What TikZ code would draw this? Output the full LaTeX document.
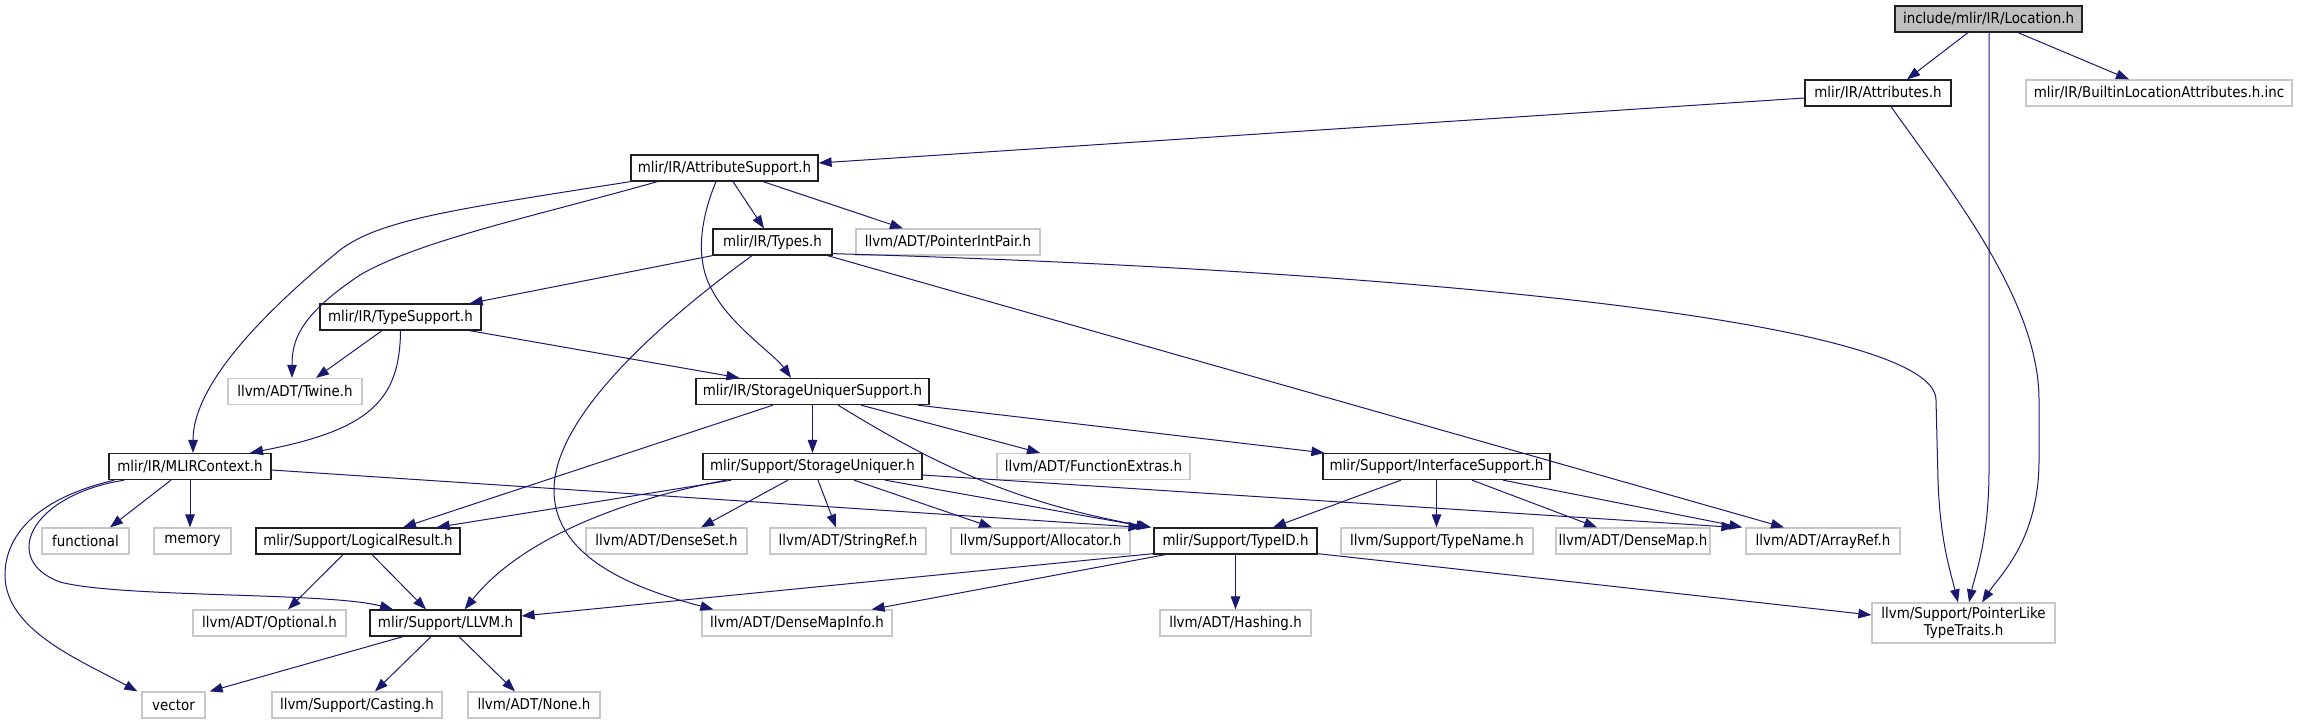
\documentclass[tikz,border=0pt]{standalone}
\usepackage{fontspec}
\setmainfont{DejaVu Sans}[FakeStretch=0.9]
\usetikzlibrary{arrows.meta}
\definecolor{edgeblue}{HTML}{191970}
\definecolor{lgray}{HTML}{C8C8C8}
\definecolor{rootgray}{HTML}{BFBFBF}
\definecolor{docborder}{HTML}{202020}
\newcommand{\nodefont}{\fontsize{14.9}{17.5}\selectfont}
\tikzset{
  doc/.style={draw=docborder, fill=white, line width=1.25pt, minimum height=26pt, inner sep=0pt, font=\nodefont, align=center},
  undoc/.style={doc, draw=lgray},
  rootnode/.style={doc, fill=rootgray},
  edge/.style={draw=edgeblue, line width=1pt, -{Triangle[length=13pt,width=9.5pt]}}
}
\begin{document}
\begin{tikzpicture}[x=1pt,y=-1pt]
\useasboundingbox (0,0) rectangle (2297,724);
% nodes
\node[rootnode, minimum width=187pt] (loc) at (1988.5,19) {include/mlir/IR/Location.h};
\node[doc, minimum width=146pt] (attr) at (1878,93) {mlir/IR/Attributes.h};
\node[undoc, minimum width=266pt] (builtin) at (2159,93) {mlir/IR/BuiltinLocationAttributes.h.inc};
\node[doc, minimum width=187pt] (attrsup) at (724.5,168) {mlir/IR/AttributeSupport.h};
\node[doc, minimum width=119pt] (types) at (772.5,242) {mlir/IR/Types.h};
\node[undoc, minimum width=184pt] (pip) at (948,242) {llvm/ADT/PointerIntPair.h};
\node[doc, minimum width=161pt] (typesup) at (400.5,317) {mlir/IR/TypeSupport.h};
\node[undoc, minimum width=134pt] (twine) at (295,391.5) {llvm/ADT/Twine.h};
\node[doc, minimum width=233pt] (sus) at (812.5,391.5) {mlir/IR/StorageUniquerSupport.h};
\node[doc, minimum width=162pt] (mlirctx) at (190,466.5) {mlir/IR/MLIRContext.h};
\node[doc, minimum width=219pt] (su) at (812.5,466.5) {mlir/Support/StorageUniquer.h};
\node[undoc, minimum width=193pt] (funcext) at (1093.5,466.5) {llvm/ADT/FunctionExtras.h};
\node[doc, minimum width=227pt] (ifsup) at (1436.5,466.5) {mlir/Support/InterfaceSupport.h};
\node[undoc, minimum width=87pt] (functional) at (85.5,541) {functional};
\node[undoc, minimum width=77pt] (memory) at (192.5,541) {memory};
\node[doc, minimum width=204pt] (logres) at (358,541) {mlir/Support/LogicalResult.h};
\node[undoc, minimum width=161pt] (denseset) at (666.5,541) {llvm/ADT/DenseSet.h};
\node[undoc, minimum width=156pt] (stringref) at (848,541) {llvm/ADT/StringRef.h};
\node[undoc, minimum width=179pt] (allocator) at (1040.5,541) {llvm/Support/Allocator.h};
\node[doc, minimum width=163pt] (typeid) at (1235.5,541) {mlir/Support/TypeID.h};
\node[undoc, minimum width=192pt] (typename) at (1437,541) {llvm/Support/TypeName.h};
\node[undoc, minimum width=154pt] (densemap) at (1633,541) {llvm/ADT/DenseMap.h};
\node[undoc, minimum width=154pt] (arrayref) at (1823,541) {llvm/ADT/ArrayRef.h};
\node[undoc, minimum width=153pt] (optional) at (269.5,623) {llvm/ADT/Optional.h};
\node[doc, minimum width=151pt] (llvm) at (445.5,623) {mlir/Support/LLVM.h};
\node[undoc, minimum width=190pt] (dmi) at (797,623) {llvm/ADT/DenseMapInfo.h};
\node[undoc, minimum width=151pt] (hashing) at (1235.5,623) {llvm/ADT/Hashing.h};
\node[undoc, minimum width=183pt, minimum height=40pt] (plt) at (1963.5,623) {llvm/Support/PointerLike\\TypeTraits.h};
\node[undoc, minimum width=63pt] (vector) at (173.5,705) {vector};
\node[undoc, minimum width=170pt] (casting) at (357,705) {llvm/Support/Casting.h};
\node[undoc, minimum width=132pt] (none) at (534,705) {llvm/ADT/None.h};
% edges
\draw[edge] ([xshift=-20.5]loc.south) -- ([xshift=29]attr.north);
\draw[edge] ([xshift=0.5]loc.south) -- (1989,470) .. controls (1989,540) and (1975,575) .. ([xshift=5.5]plt.north);
\draw[edge] ([xshift=29.5]loc.south) -- ([xshift=-30]builtin.north);
\draw[edge] ([yshift=-5]attr.west) -- ([yshift=5]attrsup.east);
\draw[edge] ([xshift=13]attr.south) .. controls (1950,190) and (2039,300) .. (2039,400) -- (2039,460) .. controls (2039,540) and (2000,575) .. ([xshift=18.5]plt.north);
\draw[edge] (attrsup.south west) .. controls (450,210) and (380,220) .. (340,250) .. controls (230,340) and (193,400) .. ([xshift=3]mlirctx.north);
\draw[edge] ([xshift=27]attrsup.south west) .. controls (540,215) and (420,240) .. (360,275) .. controls (300,315) and (292,340) .. ([xshift=-3]twine.north);
\draw[edge] ([xshift=8.5]attrsup.south) -- ([xshift=-8.5]types.north);
\draw[edge] ([xshift=38.5]attrsup.south) -- ([xshift=-45]pip.north);
\draw[edge] ([xshift=-8.5]attrsup.south) .. controls (700,220) and (695,260) .. (712,290) .. controls (730,325) and (775,355) .. ([xshift=-21.5]sus.north);
\draw[edge] (types.south west) -- ([xshift=-12]typesup.north east);
\draw[edge] ([xshift=-20.5]types.south) .. controls (650,330) and (554,420) .. (554,490) .. controls (554,560) and (640,590) .. ([xshift=12]dmi.north west);
\draw[edge] ([xshift=-5]types.south east) -- ([xshift=-39]arrayref.north);
\draw[edge] ([yshift=2]types.south east) .. controls (1400,270) and (1936,320) .. (1936,400) -- (1938,480) .. controls (1940,540) and (1950,570) .. ([xshift=-5.5]plt.north);
\draw[edge] ([xshift=-18.5]typesup.south) -- ([xshift=21]twine.north);
\draw[edge] (typesup.south) .. controls (400,400) and (370,430) .. ([xshift=60]mlirctx.north);
\draw[edge] ([xshift=-12]typesup.south east) -- ([xshift=44]sus.north west);
\draw[edge] (sus.south) -- (su.north);
\draw[edge] ([xshift=-39.5]sus.south) -- ([xshift=45]logres.north);
\draw[edge] ([xshift=25.5]sus.south) .. controls (920,455) and (1000,500) .. ([xshift=-2]typeid.north west);
\draw[edge] ([xshift=48.5]sus.south) -- ([xshift=-53.5]funcext.north);
\draw[edge] ([xshift=-12]sus.south east) -- ([xshift=2]ifsup.north west);
\draw[edge] ([xshift=-19]mlirctx.south) -- ([xshift=24.5]functional.north);
\draw[edge] (mlirctx.south) -- (mlirctx.south |- memory.north);
\draw[edge] ([yshift=-3.5]mlirctx.east) -- ([xshift=-12]typeid.north west);
\draw[edge] ([xshift=16]mlirctx.south west) .. controls (30,495) and (0,560) .. (60,582) .. controls (120,598) and (330,592) .. ([xshift=-52.5]llvm.north);
\draw[edge] ([xshift=6]mlirctx.south west) .. controls (30,500) and (5,540) .. (5,575) .. controls (5,630) and (80,660) .. ([xshift=-4]vector.north west);
\draw[edge] ([xshift=29]su.south west) -- ([xshift=-24]logres.north east);
\draw[edge] ([xshift=24]su.south west) .. controls (620,500) and (520,540) .. ([xshift=-57]llvm.north east);
\draw[edge] ([xshift=-24.5]su.south) -- ([xshift=34.5]denseset.north);
\draw[edge] ([xshift=5.5]su.south) -- ([xshift=-12]stringref.north);
\draw[edge] ([xshift=41.5]su.south) -- ([xshift=-48.5]allocator.north);
\draw[edge] ([xshift=72.5]su.south) -- ([xshift=-4]typeid.north west);
\draw[edge] ([yshift=-8.5]su.east) -- ([xshift=-11]arrayref.north west);
\draw[edge] ([xshift=-35.5]ifsup.south) -- ([xshift=37.5]typeid.north);
\draw[edge] (ifsup.south) -- (ifsup.south |- typename.north);
\draw[edge] ([xshift=35.5]ifsup.south) -- ([xshift=-36]densemap.north);
\draw[edge] ([xshift=66.5]ifsup.south) -- ([xshift=-3]arrayref.north west);
\draw[edge] ([xshift=-15]logres.south) -- ([xshift=18.5]optional.north);
\draw[edge] ([xshift=14]logres.south) -- ([xshift=-19.5]llvm.north);
\draw[edge] ([yshift=1]typeid.south west) -- ([yshift=7]llvm.east);
\draw[edge] ([xshift=12]typeid.south west) -- ([xshift=-21]dmi.north east);
\draw[edge] (typeid.south) -- (typeid.south |- hashing.north);
\draw[edge] ([yshift=1]typeid.south east) -- ([yshift=8]plt.west);
\draw[edge] ([xshift=-42.5]llvm.south) -- ([xshift=4]vector.north east);
\draw[edge] ([xshift=-14.5]llvm.south) -- ([xshift=18]casting.north);
\draw[edge] ([xshift=13.5]llvm.south) -- ([xshift=-19]none.north);
\end{tikzpicture}
\end{document}
